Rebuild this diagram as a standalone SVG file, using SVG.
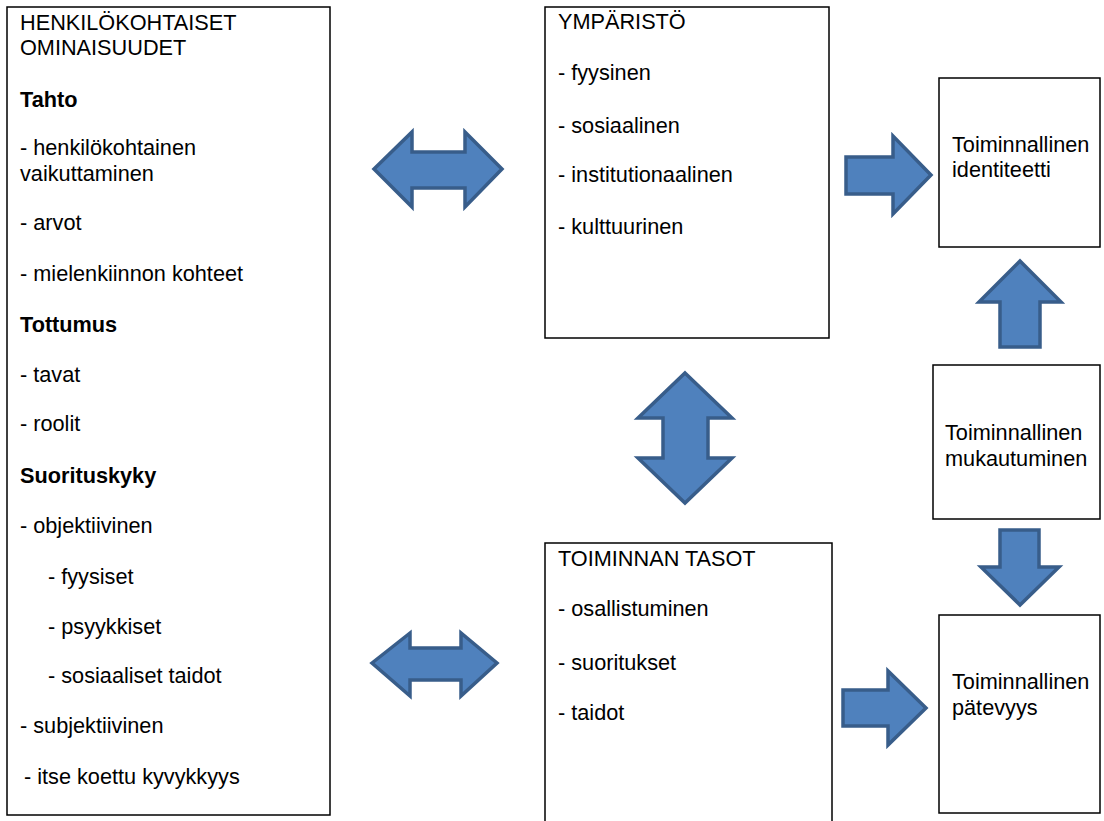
<svg xmlns="http://www.w3.org/2000/svg" width="1104" height="821" viewBox="0 0 1104 821">
<style>
.box{fill:#fff;stroke:#000;stroke-width:1.5}
text{font-family:"Liberation Sans",Arial,sans-serif;font-size:21.7px;fill:#000}
.b{font-weight:bold}
.arr{fill:#4F81BD;stroke:#385D8A;stroke-width:3.5;stroke-linejoin:miter}
</style>
<rect width="1104" height="821" fill="#fff"/>
<g id="henkilo">
<rect class="box" x="7" y="7" width="323" height="808"/>
<text x="20" y="30">HENKILÖKOHTAISET</text>
<text x="20" y="55">OMINAISUUDET</text>
<text x="20" y="107" class="b">Tahto</text>
<text x="20" y="155">- henkilökohtainen</text>
<text x="20" y="181">vaikuttaminen</text>
<text x="20" y="230">- arvot</text>
<text x="20" y="281">- mielenkiinnon kohteet</text>
<text x="20" y="332" class="b">Tottumus</text>
<text x="20" y="382">- tavat</text>
<text x="20" y="431">- roolit</text>
<text x="20" y="483" class="b">Suorituskyky</text>
<text x="20" y="533">- objektiivinen</text>
<text x="48" y="584">- fyysiset</text>
<text x="48" y="634">- psyykkiset</text>
<text x="48" y="683">- sosiaaliset taidot</text>
<text x="20" y="733">- subjektiivinen</text>
<text x="24" y="784">- itse koettu kyvykkyys</text>
</g>
<g id="ymparisto">
<rect class="box" x="545" y="7" width="284" height="331"/>
<text x="558" y="29">YMPÄRISTÖ</text>
<text x="558" y="80">- fyysinen</text>
<text x="558" y="133">- sosiaalinen</text>
<text x="558" y="182">- institutionaalinen</text>
<text x="558" y="234">- kulttuurinen</text>
</g>
<g id="tasot">
<rect class="box" x="545" y="543" width="287" height="290"/>
<text x="558" y="566">TOIMINNAN TASOT</text>
<text x="558" y="616">- osallistuminen</text>
<text x="558" y="670">- suoritukset</text>
<text x="558" y="720">- taidot</text>
</g>
<g id="identiteetti">
<rect class="box" x="939" y="78" width="161" height="169"/>
<text x="952" y="152">Toiminnallinen</text>
<text x="952" y="177">identiteetti</text>
</g>
<g id="mukautuminen">
<rect class="box" x="933" y="365" width="167" height="154"/>
<text x="945" y="440">Toiminnallinen</text>
<text x="945" y="466">mukautuminen</text>
</g>
<g id="patevyys">
<rect class="box" x="939" y="615" width="161" height="198"/>
<text x="952" y="689">Toiminnallinen</text>
<text x="952" y="715">pätevyys</text>
</g>
<g id="connectors">
<path class="arr" d="M374,169 L412,132 L412,152 L465,152 L465,132 L502,169 L465,207 L465,188 L412,188 L412,207 Z"/>
<path class="arr" d="M372,663 L410,633 L410,648 L461,648 L461,633 L497,663 L461,696 L461,680 L410,680 L410,696 Z"/>
<path class="arr" d="M685,373 L732,418 L708,418 L708,458 L732,458 L685,503 L638,458 L663,458 L663,418 L638,418 Z"/>
<path class="arr" d="M846,157 L893,157 L893,136 L931,175 L893,214 L893,194 L846,194 Z"/>
<path class="arr" d="M843,690 L888,690 L888,671 L926,708 L888,745 L888,726 L843,726 Z"/>
<path class="arr" d="M1020,261 L1061,302 L1040,302 L1040,347 L1000,347 L1000,302 L979,302 Z"/>
<path class="arr" d="M1000,530 L1039,530 L1039,567 L1059,567 L1020,605 L981,567 L1000,567 Z"/>
</g>
</svg>
